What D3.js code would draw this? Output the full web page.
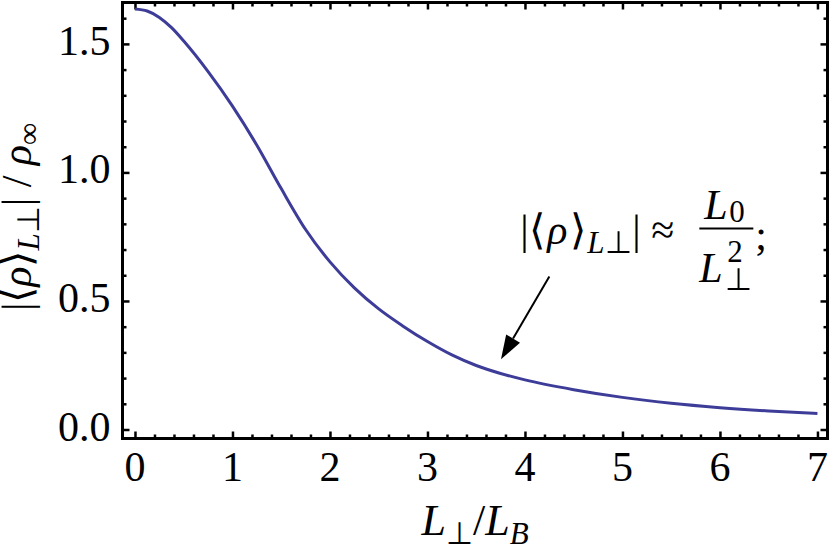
<!DOCTYPE html>
<html><head><meta charset="utf-8">
<script src="https://cdn.jsdelivr.net/npm/d3@7"></script>
</head><body style="margin:0">
<svg id="s" width="833" height="554"></svg>
<script>
// curve: L_perp / L_B  vs  |<rho>| / rho_inf
const xValues = [0, 0.125, 0.25, 0.375, 0.5, 0.75, 1.0, 1.25, 1.5, 1.75, 2.0, 2.25, 2.5, 2.75, 3.0, 3.25, 3.5, 3.75, 4.0, 4.5, 5.0, 5.5, 6.0, 6.5, 7.0];
const yValues = [1.636, 1.628, 1.603, 1.563, 1.511, 1.392, 1.258, 1.106, 0.937, 0.778, 0.652, 0.551, 0.469, 0.402, 0.342, 0.290, 0.249, 0.218, 0.193, 0.155, 0.125, 0.102, 0.085, 0.072, 0.062];

const xTicks = [0, 1, 2, 3, 4, 5, 6, 7];
const xMinorTicks = d3.range(0, 7.01, 0.2).map(d => +d.toFixed(1)).filter(d => !xTicks.includes(d));
const yTicks = [0, 0.5, 1.0, 1.5];
const yTickLabels = ['0.0', '0.5', '1.0', '1.5'];
const yMinorTicks = d3.range(0, 1.61, 0.1).map(d => +d.toFixed(1)).filter(d => !yTicks.includes(d));

// arrow of the annotation, in data units
const arrowFrom = [4.25, 0.595];
const arrowTo = [3.754, 0.273];

const data = xValues.map((x, i) => ({ x: x, y: yValues[i] }));

const config = {
  width: 833,
  height: 554,
  margin: { top: 2.5, right: 5.5, bottom: 115.5, left: 122.5 },
  xView: [-0.128, 7.103],
  yView: [-0.035, 1.661],
  font: 'Liberation Serif'
};

const innerWidth = config.width - config.margin.left - config.margin.right;
const innerHeight = config.height - config.margin.top - config.margin.bottom;

const svg = d3.select('#s');

const chart = svg.append('g')
  .attr('transform', `translate(${config.margin.left},${config.margin.top})`);

const xScale = d3.scaleLinear().domain(config.xView).range([0, innerWidth]);
const yScale = d3.scaleLinear().domain(config.yView).range([innerHeight, 0]);

// small helper so every label gets the same serif face
function label(parent, str, size, italic) {
  return parent.append('text')
    .attr('font-family', config.font)
    .style('font-size', size + 'px')
    .style('font-style', italic ? 'italic' : 'normal')
    .text(str);
}
function piece(parent, str, size, italic) {
  return parent.append('tspan')
    .attr('font-family', config.font)
    .style('font-size', size + 'px')
    .style('font-style', italic ? 'italic' : 'normal')
    .text(str);
}

// frame ticks on all four sides, pointing inward
function frameTicks(axis, transform) {
  const g = chart.append('g')
    .attr('transform', transform)
    .call(axis.tickFormat(''));
  g.select('.domain').remove();
  g.selectAll('text').remove();
  g.selectAll('line').attr('stroke', '#000').attr('stroke-width', 2.5);
}

frameTicks(d3.axisBottom(xScale).tickValues(xTicks).tickSize(-7), `translate(0,${innerHeight})`);
frameTicks(d3.axisBottom(xScale).tickValues(xMinorTicks).tickSize(-4), `translate(0,${innerHeight})`);
frameTicks(d3.axisTop(xScale).tickValues(xTicks).tickSize(-7), null);
frameTicks(d3.axisTop(xScale).tickValues(xMinorTicks).tickSize(-4), null);
frameTicks(d3.axisLeft(yScale).tickValues(yTicks).tickSize(-7), null);
frameTicks(d3.axisLeft(yScale).tickValues(yMinorTicks).tickSize(-4), null);
frameTicks(d3.axisRight(yScale).tickValues(yTicks).tickSize(-7), `translate(${innerWidth},0)`);
frameTicks(d3.axisRight(yScale).tickValues(yMinorTicks).tickSize(-4), `translate(${innerWidth},0)`);

// tick labels
xTicks.forEach(d => {
  label(chart, String(d), 42, false)
    .attr('x', xScale(d))
    .attr('y', innerHeight + 42)
    .attr('text-anchor', 'middle');
});
yTicks.forEach((d, i) => {
  label(chart, yTickLabels[i], 42, false)
    .attr('x', -12)
    .attr('y', yScale(d) + 11)
    .attr('text-anchor', 'end');
});

// curve
const line = d3.line()
  .x(d => xScale(d.x))
  .y(d => yScale(d.y))
  .curve(d3.curveMonotoneX);

chart.append('path')
  .datum(data)
  .attr('d', line)
  .attr('fill', 'none')
  .attr('stroke', '#3d3d99')
  .attr('stroke-width', 3)
  .attr('stroke-linejoin', 'round');

// frame
chart.append('rect')
  .attr('width', innerWidth)
  .attr('height', innerHeight)
  .attr('fill', 'none')
  .attr('stroke', '#000')
  .attr('stroke-width', 3);

// x axis title: L_perp / L_B
const xTitle = label(svg, null, 44, false)
  .attr('x', config.margin.left + innerWidth / 2)
  .attr('y', 535)
  .attr('text-anchor', 'middle');
piece(xTitle, 'L', 44, true);
piece(xTitle, '⊥', 31, false).attr('dy', 9);
piece(xTitle, '/', 44, false).attr('dy', -9);
piece(xTitle, 'L', 44, true);
piece(xTitle, 'B', 31, true).attr('dy', 9);

// y axis title: |<rho>_{L_perp}| / rho_inf
const yTitle = label(svg, null, 42, false)
  .attr('transform', 'translate(31,217) rotate(-90)')
  .attr('text-anchor', 'middle');
piece(yTitle, '|⟨', 42, false);
piece(yTitle, 'ρ', 42, true);
piece(yTitle, '⟩', 42, false);
piece(yTitle, 'L', 31, true).attr('dy', 8);
piece(yTitle, '⊥', 31, false);
piece(yTitle, '| / ', 42, false).attr('dy', -8);
piece(yTitle, 'ρ', 42, true);
piece(yTitle, '∞', 31, false).attr('dy', 8);

// annotation arrow
const ax0 = xScale(arrowFrom[0]), ay0 = yScale(arrowFrom[1]);
const ax1 = xScale(arrowTo[0]), ay1 = yScale(arrowTo[1]);
const ang = Math.atan2(ay1 - ay0, ax1 - ax0);
const headLen = 24, headHalf = 8;
const bx = ax1 - headLen * Math.cos(ang), by = ay1 - headLen * Math.sin(ang);

chart.append('line')
  .attr('x1', ax0).attr('y1', ay0)
  .attr('x2', bx).attr('y2', by)
  .attr('stroke', '#000')
  .attr('stroke-width', 2);
chart.append('path')
  .attr('d', `M${ax1},${ay1}L${bx - headHalf * Math.sin(ang)},${by + headHalf * Math.cos(ang)}L${bx + headHalf * Math.sin(ang)},${by - headHalf * Math.cos(ang)}Z`)
  .attr('fill', '#000');

// annotation formula, placed relative to the arrow tail
const note = chart.append('g')
  .attr('transform', `translate(${ax0 - 30},${ay0 - 33})`);

label(note, '|', 42, false).attr('x', 1);
label(note, '⟨', 42, false).attr('x', 10);
label(note, 'ρ', 42, true).attr('x', 28);
label(note, '⟩', 42, false).attr('x', 51);

const lhsSub = label(note, null, 31, false).attr('x', 68).attr('y', 9);
piece(lhsSub, 'L', 31, true);
piece(lhsSub, '⊥', 31, false);

label(note, '|', 42, false).attr('x', 113);
label(note, '≈', 42, false).attr('x', 132);

note.append('line')
  .attr('x1', 180).attr('x2', 234)
  .attr('y1', -15).attr('y2', -15)
  .attr('stroke', '#000')
  .attr('stroke-width', 2);

label(note, 'L', 42, true).attr('x', 185).attr('y', -25);
label(note, '0', 31, false).attr('x', 210).attr('y', -22);

label(note, 'L', 42, true).attr('x', 180).attr('y', 38);
label(note, '2', 31, false).attr('x', 208).attr('y', 18);
label(note, '⊥', 31, false).attr('x', 206).attr('y', 46);

label(note, ';', 42, false).attr('x', 236).attr('y', 5);
</script>
</body>
</html>
